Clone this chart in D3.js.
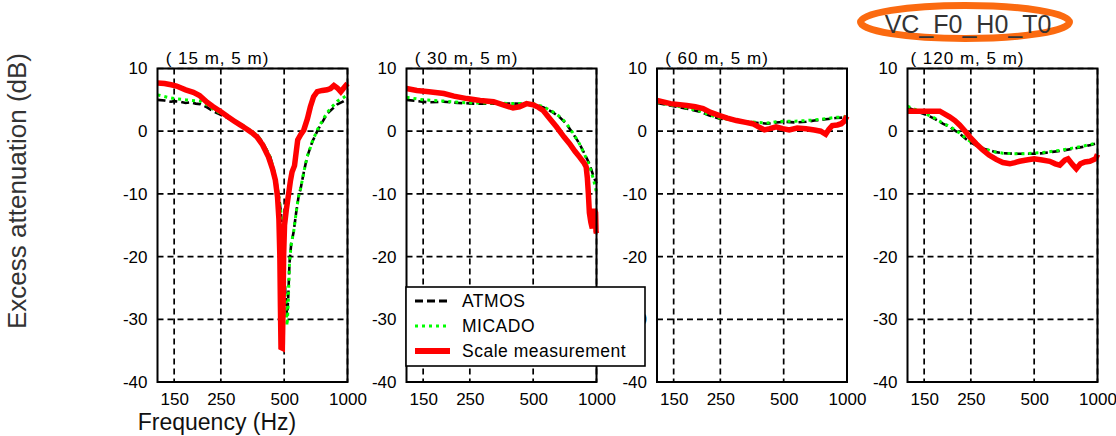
<!DOCTYPE html>
<html>
<head>
<meta charset="utf-8">
<script src="https://cdn.jsdelivr.net/npm/d3@7"></script>
<style>
  html, body { margin: 0; padding: 0; background: #fff; }
  svg { display: block; font-family: "Liberation Sans", Arial, sans-serif; }
</style>
</head>
<body>
<svg id="chart" width="1116" height="436"></svg>
<script>
// ---------------- data ----------------
const panelTitles = ["( 15 m, 5 m)", "( 30 m, 5 m)", "( 60 m, 5 m)", "( 120 m, 5 m)"];
const xTicks = [150, 250, 500, 1000];
const yTicks = [10, 0, -10, -20, -30, -40];
const seriesNames = ["ATMOS", "MICADO", "Scale measurement"];
const caseLabel = "VC_F0_H0_T0";
const xLabel = "Frequency (Hz)";
const yLabel = "Excess attenuation (dB)";

// panel 1: (15 m, 5 m)
const atmos15 = [[125,5.0],[135,4.9],[145,4.7],[150,4.8],[160,4.7],[170,4.5],[180,4.6],[190,4.4],[200,4.3],[215,3.8],[230,3.2],[250,2.6],[270,2.1],[290,1.5],[310,1.0],[330,0.4],[350,-0.1],[370,-0.5],[390,-1.5],[410,-2.8],[430,-4.2],[445,-6.0],[460,-8.3],[472,-10.5],[483,-13.0],[495,-19.5],[505,-25.0],[516,-29.5],[522,-27.0],[530,-21.0],[540,-18.0],[555,-16.0],[570,-13.0],[585,-10.5],[600,-9.0],[620,-6.5],[643,-4.1],[680,-1.7],[718,0.0],[760,1.5],[801,2.8],[850,3.6],[895,4.3],[950,4.7],[1000,5.2]];
const micado15 = [[125,5.8],[140,5.4],[150,5.2],[170,5.0],[200,4.8],[215,4.2],[230,3.5],[250,2.8],[270,2.3],[290,1.7],[310,1.2],[330,0.6],[350,0.0],[370,-0.6],[390,-1.5],[410,-2.8],[430,-4.2],[445,-6.0],[460,-8.3],[472,-10.5],[483,-13.0],[495,-20.0],[505,-25.5],[516,-31.0],[522,-28.0],[530,-21.0],[540,-18.0],[555,-16.0],[570,-13.0],[585,-10.5],[600,-9.0],[620,-6.5],[643,-4.1],[680,-1.7],[718,0.2],[760,1.7],[801,3.0],[850,4.0],[895,4.8],[950,5.3],[1000,5.8]];
const scale15 = [[125,7.7],[135,7.6],[145,7.4],[154,7.2],[170,6.6],[185,6.2],[198,5.7],[215,4.6],[230,3.9],[250,3.1],[270,2.3],[290,1.6],[309,1.0],[330,0.4],[350,-0.2],[371,-0.9],[395,-2.2],[421,-4.1],[440,-6.0],[454,-7.8],[465,-10.5],[472,-14.0],[477,-20.0],[480,-28.0],[483,-34.5],[490,-34.6],[494,-28.0],[497,-20.0],[502,-15.0],[512,-12.5],[525,-10.0],[535,-8.0],[545,-6.5],[560,-5.5],[572,-3.0],[580,-1.4],[600,-0.5],[620,0.2],[645,2.0],[666,3.9],[690,5.5],[718,6.3],[760,6.5],[800,6.6],[830,6.8],[862,7.3],[895,6.9],[929,6.3],[960,6.9],[1000,7.6]];

// panel 2: (30 m, 5 m)
const atmos30 = [[125,5.0],[140,4.8],[160,4.6],[188,4.7],[220,4.5],[260,4.4],[324,4.4],[400,4.4],[500,4.3],[560,3.8],[620,3.0],[670,2.2],[718,1.2],[770,-0.3],[830,-2.0],[880,-3.7],[925,-5.2],[970,-7.3],[1000,-8.3]];
const micado30 = [[125,5.4],[150,5.0],[188,4.8],[220,4.6],[260,4.5],[324,4.5],[400,4.4],[500,4.4],[560,3.9],[620,3.1],[670,2.3],[718,1.3],[770,-0.2],[830,-2.0],[880,-3.8],[925,-5.5],[970,-7.8],[1000,-9.8]];
const scale30 = [[125,6.8],[140,6.5],[160,6.3],[188,6.0],[210,5.6],[242,5.2],[280,4.9],[324,4.7],[360,4.2],[401,3.7],[430,3.9],[465,4.4],[500,4.2],[530,3.8],[558,3.3],[600,2.0],[645,0.7],[700,-0.9],[745,-2.0],[790,-3.2],[830,-4.1],[870,-5.0],[893,-5.7],[905,-7.5],[915,-10.0],[925,-13.0],[940,-14.5],[955,-15.5],[962,-13.0],[975,-12.5],[990,-13.0],[995,-16.0],[1000,-16.3]];

// panel 3: (60 m, 5 m)
const atmos60 = [[125,4.5],[150,4.0],[173,3.6],[200,3.1],[222,2.5],[248,2.0],[298,1.7],[340,1.5],[380,1.3],[420,1.2],[460,1.4],[510,1.5],[570,1.4],[638,1.5],[700,1.7],[792,1.9],[880,2.1],[1000,2.2]];
const micado60 = [[125,4.6],[150,4.1],[173,3.7],[200,3.2],[222,2.6],[248,2.1],[298,1.7],[340,1.5],[380,1.4],[420,1.3],[460,1.5],[510,1.6],[570,1.6],[638,1.7],[700,1.8],[792,2.0],[880,2.2],[1000,2.3]];
const scale60 = [[125,4.9],[145,4.4],[173,4.1],[190,3.9],[207,3.6],[225,3.0],[248,2.5],[270,2.1],[298,1.7],[330,1.4],[356,1.2],[380,0.7],[405,0.2],[430,0.4],[460,0.7],[495,0.4],[531,0.2],[580,0.5],[638,0.4],[700,0.2],[750,0.0],[792,-0.5],[820,0.3],[851,0.9],[900,1.0],[940,1.2],[970,1.6],[1000,2.4]];

// panel 4: (120 m, 5 m)
const atmos120 = [[125,3.8],[140,3.1],[154,2.6],[170,1.9],[184,1.2],[200,0.6],[221,-0.4],[240,-1.4],[256,-2.0],[275,-2.6],[296,-2.9],[325,-3.3],[355,-3.5],[400,-3.6],[450,-3.6],[500,-3.6],[550,-3.5],[610,-3.3],[680,-3.1],[760,-2.8],[850,-2.5],[930,-2.2],[1000,-1.9]];
const micado120 = [[125,4.0],[140,3.3],[154,2.7],[170,2.0],[184,1.3],[200,0.7],[221,-0.3],[240,-1.3],[256,-1.9],[275,-2.5],[296,-2.9],[325,-3.3],[355,-3.5],[400,-3.6],[450,-3.6],[500,-3.5],[550,-3.4],[610,-3.2],[680,-3.0],[760,-2.7],[850,-2.4],[930,-2.1],[1000,-1.8]];
const scale120 = [[125,3.2],[150,3.2],[178,3.2],[198,2.3],[210,1.7],[221,1.0],[235,0.0],[247,-0.9],[265,-2.0],[285,-3.0],[305,-3.8],[330,-4.5],[355,-5.0],[383,-5.2],[405,-5.0],[426,-4.8],[460,-4.6],[500,-4.4],[545,-4.6],[593,-4.8],[630,-5.2],[662,-5.4],[700,-4.6],[724,-4.4],[760,-5.3],[793,-6.0],[830,-5.2],[871,-4.9],[920,-4.8],[950,-4.6],[980,-4.4],[1000,-3.7]];

const atmosAll = [atmos15, atmos30, atmos60, atmos120];
const micadoAll = [micado15, micado30, micado60, micado120];
const scaleAll = [scale15, scale30, scale60, scale120];

// ---------------- layout ----------------
const svg = d3.select("#chart");
const panelLefts = [157.5, 406.5, 657, 907.5];
const plotW = 190, plotTop = 68.5, plotH = 313.5;
const font = "Liberation Sans, Arial, sans-serif";

const x = d3.scaleLog().domain([125, 1000]).range([0, plotW]);
const y = d3.scaleLinear().domain([-40, 10]).range([plotH, 0]);
const line = d3.line().x(d => x(d[0])).y(d => y(d[1]));
const fmt = d => String(d);

const styles = [
  { color: "#000", width: 2.6, dash: "8,4" },
  { color: "#00ff00", width: 3, dash: "3,4" },
  { color: "#ff0000", width: 5.5, dash: null }
];

function drawPanel(i) {
  const g = svg.append("g").attr("transform", `translate(${panelLefts[i]},${plotTop})`);

  // grid
  g.append("g").selectAll("line").data(xTicks).join("line")
    .attr("x1", d => x(d)).attr("x2", d => x(d))
    .attr("y1", 0).attr("y2", plotH)
    .attr("stroke", "#000").attr("stroke-width", 1.7).attr("stroke-dasharray", "6,4");
  g.append("g").selectAll("line").data(yTicks).join("line")
    .attr("y1", d => y(d)).attr("y2", d => y(d))
    .attr("x1", 0).attr("x2", plotW)
    .attr("stroke", "#000").attr("stroke-width", 1.7).attr("stroke-dasharray", "6,4");

  // series
  const sets = [atmosAll[i], micadoAll[i], scaleAll[i]];
  sets.forEach((data, k) => {
    const p = g.append("path").datum(data).attr("d", line)
      .attr("fill", "none").attr("stroke", styles[k].color)
      .attr("stroke-width", styles[k].width).attr("stroke-linejoin", "miter").attr("stroke-miterlimit", 2);
    if (styles[k].dash) p.attr("stroke-dasharray", styles[k].dash);
  });

  // frame
  g.append("rect").attr("x", 0).attr("y", 0).attr("width", plotW).attr("height", plotH)
    .attr("fill", "none").attr("stroke", "#000").attr("stroke-width", 2);

  // axes
  const xa = g.append("g").attr("transform", `translate(0,${plotH})`)
    .call(d3.axisBottom(x).tickValues(xTicks).tickFormat(fmt).tickSize(0).tickPadding(11));
  const ya = g.append("g")
    .call(d3.axisLeft(y).tickValues(yTicks).tickFormat(fmt).tickSize(0).tickPadding(10));
  [xa, ya].forEach(a => {
    a.select(".domain").remove();
    a.selectAll("text").attr("font-size", 17).attr("font-family", font).attr("fill", "#000");
  });

  // title
  g.append("text").attr("x", 60).attr("y", -5).attr("text-anchor", "middle")
    .attr("font-size", 17).attr("letter-spacing", 1).attr("font-family", font)
    .text(panelTitles[i]);
}

[0, 1, 2, 3].forEach(drawPanel);

// legend (on top of panel 2 / panel 3 labels)
const lg = svg.append("g").attr("transform", "translate(406,287)");
lg.append("rect").attr("width", 239).attr("height", 79)
  .attr("fill", "#fff").attr("stroke", "#000").attr("stroke-width", 1.6);
seriesNames.forEach((name, k) => {
  const yy = 14 + k * 25;
  const l = lg.append("line").attr("x1", 9).attr("x2", 44).attr("y1", yy).attr("y2", yy)
    .attr("stroke", styles[k].color).attr("stroke-width", k === 2 ? 6 : 3);
  if (styles[k].dash) l.attr("stroke-dasharray", styles[k].dash);
  lg.append("text").attr("x", 56).attr("y", yy + 6).attr("font-size", 17.5)
    .attr("letter-spacing", 0.5).attr("font-family", font).text(name);
});

// axis labels
svg.append("text").attr("x", 217).attr("y", 430).attr("text-anchor", "middle")
  .attr("font-size", 23).attr("font-family", font).attr("fill", "#111").text(xLabel);
svg.append("text").attr("transform", "translate(26,191) rotate(-90)").attr("text-anchor", "middle")
  .attr("font-size", 26).attr("font-family", font).attr("fill", "#333").text(yLabel);

// case label with orange ellipse
svg.append("ellipse").attr("cx", 965).attr("cy", 22).attr("rx", 104.5).attr("ry", 16.5)
  .attr("fill", "none").attr("stroke", "#fb6a10").attr("stroke-width", 7);
svg.append("text").attr("x", 968).attr("y", 33).attr("text-anchor", "middle")
  .attr("font-size", 25).attr("font-family", font).attr("fill", "#333").text(caseLabel);
</script>
</body>
</html>
